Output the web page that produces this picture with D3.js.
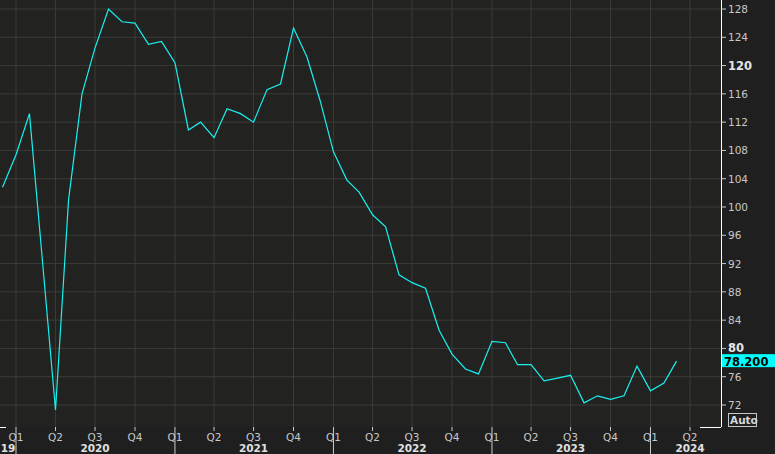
<!DOCTYPE html>
<html><head><meta charset="utf-8">
<script src="https://cdn.jsdelivr.net/npm/d3@7"></script>
<style>
body{margin:0;background:#1f1f1f;}
text{font-family:"DejaVu Sans",sans-serif;}
</style></head>
<body><svg id="chart" width="775" height="454"></svg>
<script>
// monthly values, Dec 2019 .. Mar 2024
var months = ['2019-12','2020-01','2020-02','2020-03','2020-04','2020-05','2020-06','2020-07','2020-08','2020-09','2020-10','2020-11','2020-12',
  '2021-01','2021-02','2021-03','2021-04','2021-05','2021-06','2021-07','2021-08','2021-09','2021-10','2021-11','2021-12',
  '2022-01','2022-02','2022-03','2022-04','2022-05','2022-06','2022-07','2022-08','2022-09','2022-10','2022-11','2022-12',
  '2023-01','2023-02','2023-03','2023-04','2023-05','2023-06','2023-07','2023-08','2023-09','2023-10','2023-11','2023-12',
  '2024-01','2024-02','2024-03'];
var values = [102.8,107.4,113.2,93.0,71.3,101.0,116.0,122.5,128.0,126.2,126.0,123.0,123.4,
  120.4,110.9,112.0,109.8,113.9,113.2,112.0,116.6,117.4,125.3,121.2,115.1,
  107.8,103.8,102.1,98.9,97.2,90.4,89.3,88.5,82.6,79.2,77.1,76.4,
  81.0,80.8,77.7,77.7,75.4,75.8,76.2,72.3,73.3,72.8,73.3,77.5,
  74.0,75.1,78.2];
var yTicks = [72,76,80,84,88,92,96,100,104,108,112,116,120,124,128];
var boldTicks = [80,120];
var quarters = ['2020-01','2020-04','2020-07','2020-10','2021-01','2021-04','2021-07','2021-10',
  '2022-01','2022-04','2022-07','2022-10','2023-01','2023-04','2023-07','2023-10','2024-01','2024-04'];
var years = [['19','2019-10'],['2020','2020-07'],['2021','2021-07'],['2022','2022-07'],['2023','2023-07'],['2024','2024-04']];
var lastLabel = '78.200';

var parse = d3.timeParse('%Y-%m');
var svg = d3.select('#chart');
var W = 721, H = 427;
var x = d3.scaleTime().domain([parse('2020-01'), parse('2024-04')]).range([16, 690]);
var y = d3.scaleLinear().domain([72, 128]).range([405, 9]);

svg.append('rect').attr('width', W).attr('height', H).attr('fill', '#222320');

// grid
svg.selectAll('.hg').data(yTicks).enter().append('line')
  .attr('x1', 0).attr('x2', W).attr('y1', d => y(d)).attr('y2', d => y(d))
  .attr('stroke', '#3a3b38').attr('stroke-width', 1);
svg.selectAll('.vg').data(quarters).enter().append('line')
  .attr('x1', d => x(parse(d))).attr('x2', d => x(parse(d))).attr('y1', 0).attr('y2', H)
  .attr('stroke', '#3a3b38').attr('stroke-width', 1);

// axes frame
svg.append('line').attr('x1', W + 0.5).attr('x2', W + 0.5).attr('y1', 0).attr('y2', H).attr('stroke', '#fff');
svg.append('line').attr('x1', 700).attr('x2', W).attr('y1', H + 0.5).attr('y2', H + 0.5).attr('stroke', '#fff');
svg.append('line').attr('x1', 0).attr('x2', 6).attr('y1', H + 0.5).attr('y2', H + 0.5).attr('stroke', '#fff');

// right axis
var ya = svg.selectAll('.yt').data(yTicks).enter().append('g');
ya.append('line').attr('x1', W).attr('x2', W + 5).attr('y1', d => y(d)).attr('y2', d => y(d)).attr('stroke', '#ccc');
ya.append('text').attr('x', W + 7).attr('y', d => y(d) + 4)
  .attr('font-size', d => boldTicks.indexOf(d) >= 0 ? 11.5 : 10.5)
  .attr('font-weight', d => boldTicks.indexOf(d) >= 0 ? 'bold' : 'normal')
  .attr('fill', d => boldTicks.indexOf(d) >= 0 ? '#e6e6e6' : '#c8c8c8')
  .text(d => d);

// bottom axis
var xa = svg.selectAll('.xt').data(quarters).enter().append('g');
xa.append('line').attr('x1', d => x(parse(d))).attr('x2', d => x(parse(d)))
  .attr('y1', H).attr('y2', d => d.slice(5) === '01' ? 454 : H + 4).attr('stroke', '#ccc');
xa.append('text').attr('x', d => x(parse(d))).attr('y', 441).attr('text-anchor', 'middle')
  .attr('font-size', 10.5).attr('fill', '#c8c8c8')
  .text(d => 'Q' + (Math.floor((+d.slice(5) - 1) / 3) + 1));
svg.selectAll('.yr').data(years).enter().append('text')
  .attr('x', d => d[0] === '19' ? 8 : x(parse(d[1]))).attr('y', 452).attr('text-anchor', 'middle')
  .attr('font-size', 10.5).attr('font-weight', 'bold').attr('fill', '#e0e0e0').text(d => d[0]);

// line
var line = d3.line().x((d, i) => x(parse(months[i]))).y(d => y(d));
svg.append('path').datum(values).attr('d', line)
  .attr('fill', 'none').attr('stroke', '#19f0f0').attr('stroke-width', 1.2);

// last value badge
var ly = y(values[values.length - 1]);
svg.append('rect').attr('x', W + 1).attr('y', ly - 7).attr('width', 54).attr('height', 13).attr('fill', '#00ffff');
svg.append('text').attr('x', W + 3).attr('y', ly + 4.5).attr('font-size', 11.5).attr('font-weight', 'bold')
  .attr('fill', '#000').text(lastLabel);

// Auto box
svg.append('rect').attr('x', 728.5).attr('y', 413.5).attr('width', 28).attr('height', 13)
  .attr('fill', 'none').attr('stroke', '#c8c8c8');
svg.append('text').attr('x', 730).attr('y', 424).attr('font-size', 10.5).attr('font-weight', 'bold')
  .attr('fill', '#d8d8d8').text('Auto');
</script></body></html>
